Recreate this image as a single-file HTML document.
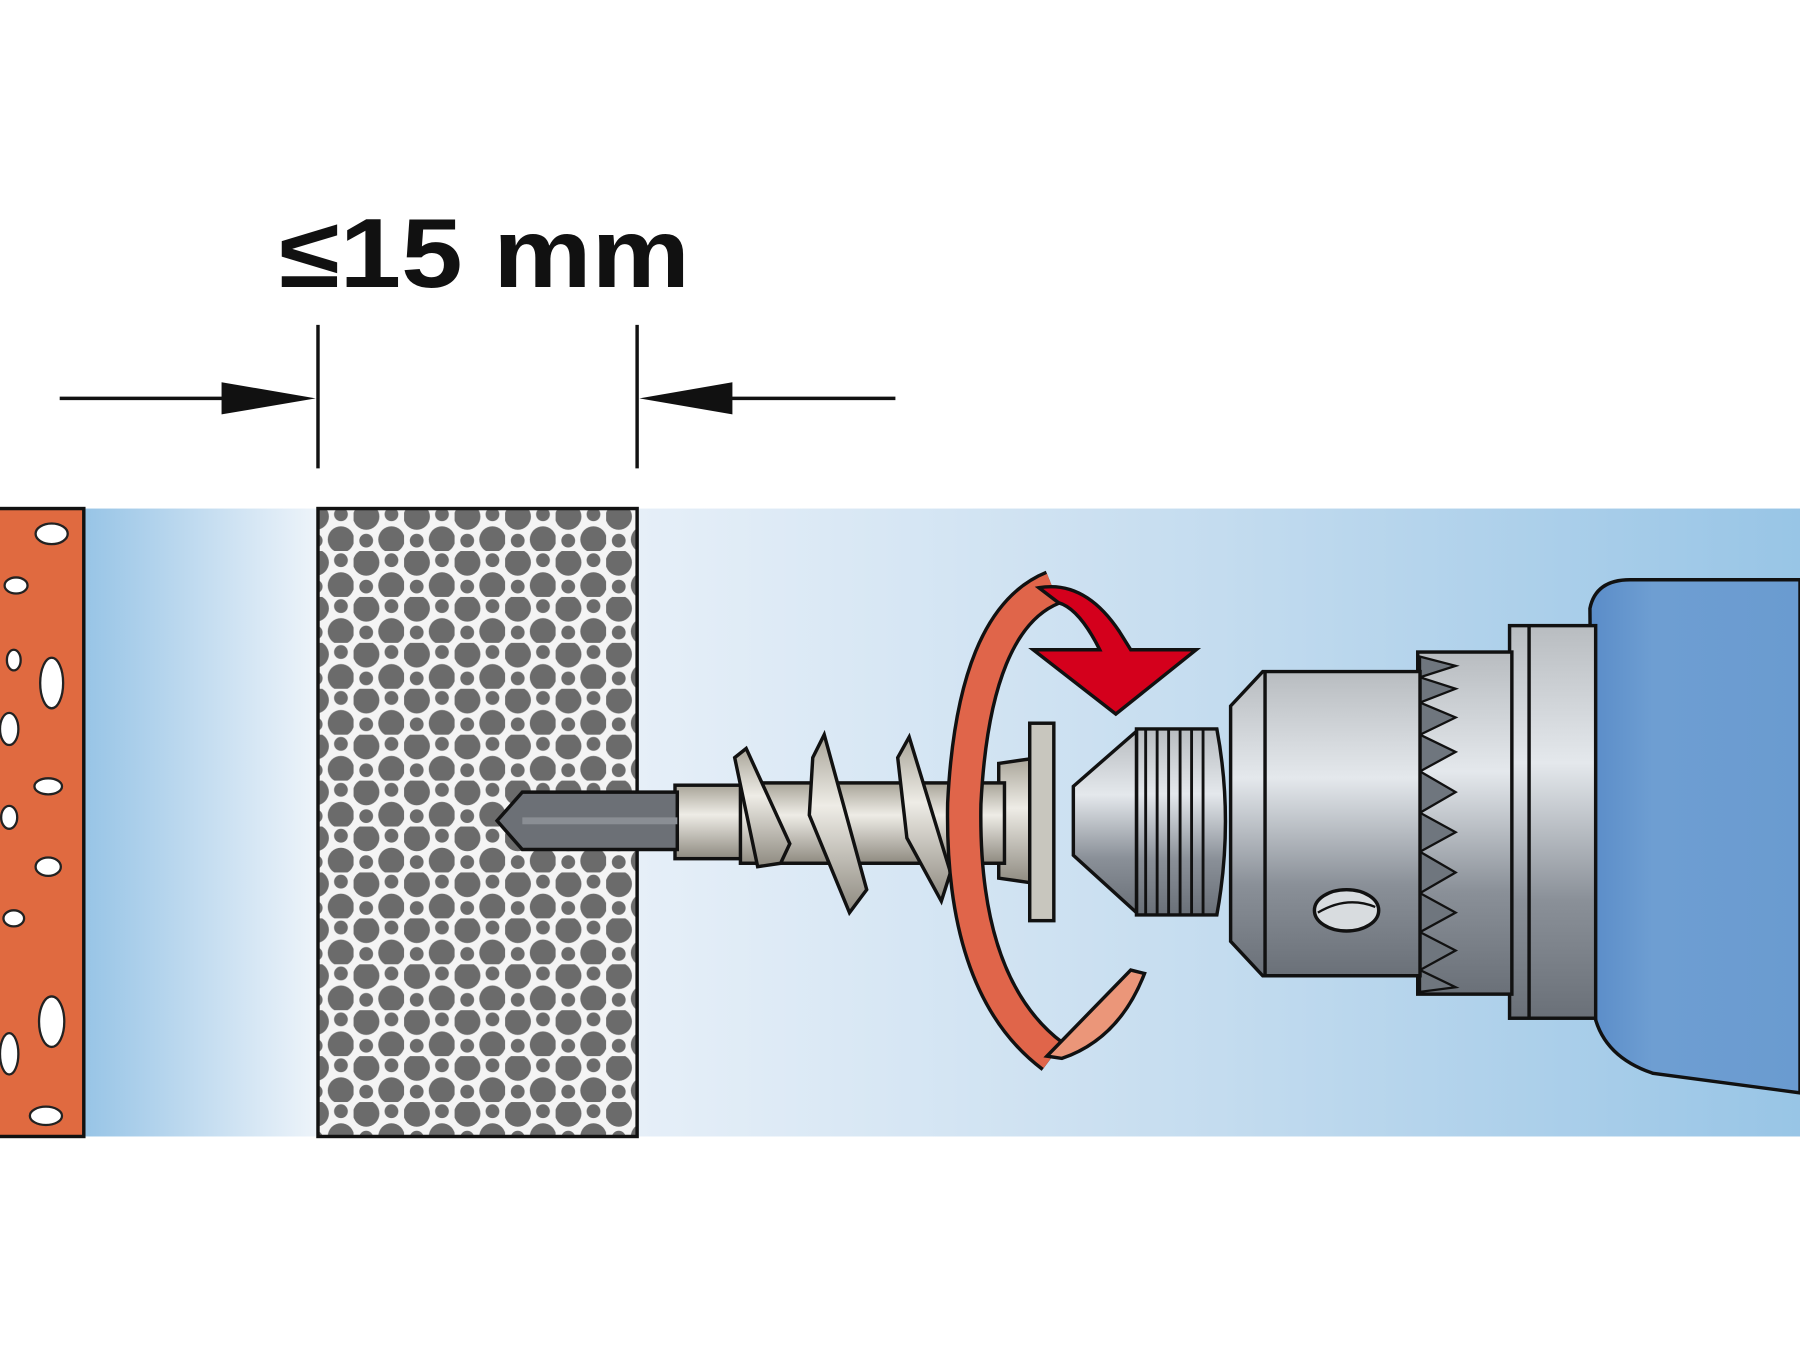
<!DOCTYPE html>
<html><head><style>html,body{margin:0;padding:0;background:#fff}svg{display:block}</style></head>
<body>
<svg width="1800" height="1350" viewBox="0 0 1568 1176" xmlns="http://www.w3.org/2000/svg">
<defs>
<linearGradient id="bgL" x1="0" x2="1" y1="0" y2="0">
<stop offset="0" stop-color="#97c4e6"/><stop offset="1" stop-color="#eef4fa"/></linearGradient>
<linearGradient id="bgR" x1="0" x2="1" y1="0" y2="0">
<stop offset="0" stop-color="#e6eff8"/><stop offset="0.5" stop-color="#c4dcef"/><stop offset="1" stop-color="#98c5e6"/></linearGradient>
<pattern id="dots" width="44" height="40" patternUnits="userSpaceOnUse">
<circle cx="11" cy="10" r="11.5" fill="#6b6b6b"/><circle cx="33" cy="30" r="11.5" fill="#6b6b6b"/><circle cx="33" cy="8" r="6" fill="#6b6b6b"/><circle cx="11" cy="31" r="6" fill="#6b6b6b"/></pattern>
<linearGradient id="metal" x1="0" x2="0" y1="0" y2="1">
<stop offset="0" stop-color="#b8bcc0"/><stop offset="0.35" stop-color="#e4e8ec"/><stop offset="0.7" stop-color="#8a9098"/><stop offset="1" stop-color="#6a7078"/></linearGradient>
<linearGradient id="screw" x1="0" x2="0" y1="0" y2="1">
<stop offset="0" stop-color="#a8a498"/><stop offset="0.4" stop-color="#eeece6"/><stop offset="1" stop-color="#8e8a80"/></linearGradient>
<linearGradient id="blue" x1="0" x2="1" y1="0" y2="0">
<stop offset="0" stop-color="#5a8cc8"/><stop offset="0.3" stop-color="#6e9ed2"/><stop offset="1" stop-color="#6a9bd0"/></linearGradient>
</defs>
<rect x="73" y="443" width="204" height="547" fill="url(#bgL)"/>
<rect x="555" y="443" width="1013" height="547" fill="url(#bgR)"/>
<rect x="-2" y="443" width="75" height="547" fill="#e06a40" stroke="#111" stroke-width="3"/>
<g fill="#fff" stroke="#222" stroke-width="2">
<ellipse cx="45" cy="465" rx="14" ry="9"/><ellipse cx="14" cy="510" rx="10" ry="7"/>
<ellipse cx="45" cy="595" rx="10" ry="22"/><ellipse cx="8" cy="635" rx="8" ry="14"/>
<ellipse cx="42" cy="685" rx="12" ry="7"/><ellipse cx="8" cy="712" rx="7" ry="10"/>
<ellipse cx="42" cy="755" rx="11" ry="8"/><ellipse cx="12" cy="800" rx="9" ry="7"/>
<ellipse cx="45" cy="890" rx="11" ry="22"/><ellipse cx="8" cy="918" rx="8" ry="18"/>
<ellipse cx="40" cy="972" rx="14" ry="8"/><ellipse cx="12" cy="575" rx="6" ry="9"/>
</g>
<rect x="277" y="443" width="278" height="547" fill="#f4f4f4"/>
<rect x="277" y="443" width="278" height="547" fill="url(#dots)"/>
<rect x="277" y="443" width="278" height="547" fill="none" stroke="#111" stroke-width="3"/>
<text transform="translate(243,250) scale(1.12,1)" x="0" y="0" font-family="Liberation Sans, sans-serif" font-weight="bold" font-size="86" fill="#111">≤15 mm</text>
<g stroke="#111" stroke-width="3">
<line x1="52" y1="347" x2="200" y2="347"/><line x1="277" y1="283" x2="277" y2="408"/>
<line x1="555" y1="283" x2="555" y2="408"/><line x1="630" y1="347" x2="780" y2="347"/></g>
<polygon points="193,333 275,347 193,361" fill="#111"/>
<polygon points="638,333 557,347 638,361" fill="#111"/>
<path d="M1385,530 Q1390,505 1420,505 L1568,505 L1568,952 L1440,935 Q1395,920 1388,880 Z" fill="url(#blue)" stroke="#111" stroke-width="3"/>
<rect x="1315" y="545" width="75" height="342" fill="url(#metal)" stroke="#111" stroke-width="3"/>
<line x1="1332" y1="545" x2="1332" y2="887" stroke="#111" stroke-width="3"/>
<rect x="1235" y="568" width="82" height="298" fill="url(#metal)" stroke="#111" stroke-width="3"/>
<g fill="#6f767e" stroke="#111" stroke-width="2">
<path d="M1237,572 L1268,580 L1237,590 L1268,600 L1237,612 L1268,625 L1237,640 L1268,655 L1237,672 L1268,690 L1237,708 L1268,725 L1237,742 L1268,760 L1237,778 L1268,795 L1237,812 L1268,828 L1237,845 L1268,860 L1237,864 Z"/></g>
<path d="M1100,585 L1237,585 L1237,850 L1100,850 L1072,820 L1072,615 Z" fill="url(#metal)" stroke="#111" stroke-width="3"/>
<line x1="1102" y1="585" x2="1102" y2="850" stroke="#111" stroke-width="3"/>
<ellipse cx="1173" cy="793" rx="28" ry="18" fill="#d8dcdf" stroke="#111" stroke-width="3"/>
<path d="M1148,795 Q1173,780 1198,790" fill="none" stroke="#111" stroke-width="2"/>
<path d="M990,635 L1060,635 Q1075,715 1060,797 L990,797 Z" fill="url(#metal)" stroke="#111" stroke-width="3"/>
<g stroke="#111" stroke-width="2.5">
<line x1="998" y1="635" x2="998" y2="797"/><line x1="1008" y1="635" x2="1008" y2="797"/>
<line x1="1018" y1="635" x2="1018" y2="797"/><line x1="1028" y1="635" x2="1028" y2="797"/>
<line x1="1038" y1="635" x2="1038" y2="797"/><line x1="1048" y1="635" x2="1048" y2="797"/></g>
<path d="M990,637 L935,685 L935,745 L990,795 Z" fill="url(#metal)" stroke="#111" stroke-width="3"/>
<path d="M870,665 L905,660 L905,770 L870,765 Z" fill="url(#screw)" stroke="#111" stroke-width="3"/>
<rect x="897" y="630" width="21" height="172" fill="#c8c6be" stroke="#111" stroke-width="3"/>
<rect x="588" y="684" width="60" height="64" fill="url(#screw)" stroke="#111" stroke-width="3"/>
<rect x="645" y="682" width="230" height="70" fill="url(#screw)" stroke="#111" stroke-width="3"/>
<g fill="url(#screw)" stroke="#111" stroke-width="3">
<path d="M640,660 L650,652 L688,735 L680,752 L660,755 Z"/>
<path d="M708,660 L718,640 L755,775 L740,795 L705,710 Z"/>
<path d="M782,660 L792,642 L828,760 L820,785 L790,730 Z"/>
</g>
<path d="M455,690 L590,690 L590,740 L455,740 L433,715 Z" fill="#6c7076" stroke="#111" stroke-width="3"/>
<line x1="455" y1="715" x2="590" y2="715" stroke="#8a8e94" stroke-width="6"/>
<path d="M917,512 Q848,540 840,700 Q837,860 917,920" fill="none" stroke="#111" stroke-width="32"/>
<path d="M917,512 Q848,540 840,700 Q837,860 917,920" fill="none" stroke="#e0654a" stroke-width="26"/>
<path d="M912,920 L985,845 L997,848 Q975,905 925,922 Z" fill="#eb9679" stroke="#111" stroke-width="3"/>
<path d="M905,512 Q945,505 975,550 L985,566 L1042,566 L972,622 L900,566 L958,566 Q940,530 922,525 Z" fill="#d4001c" stroke="#111" stroke-width="3"/>
</svg>
</body></html>
